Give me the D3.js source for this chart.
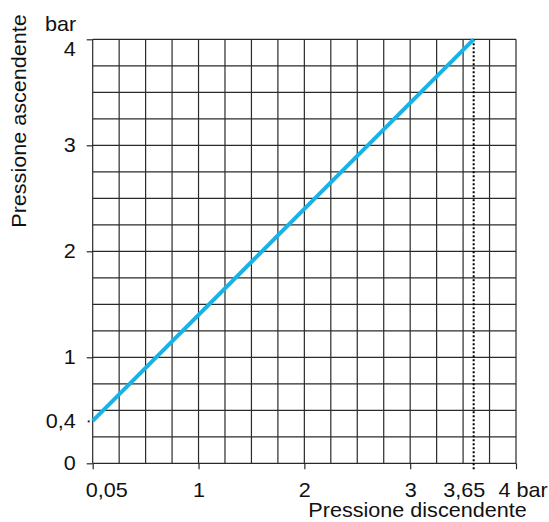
<!DOCTYPE html>
<html lang="it">
  <head>
    <meta charset="UTF-8" />
    <title>Pressione ascendente / discendente</title>
    <script src="https://cdnjs.cloudflare.com/ajax/libs/d3/7.8.5/d3.min.js"></script>
    <style>
      html, body { margin: 0; padding: 0; background: #fff; }
      svg text { font-family: "Liberation Sans", Arial, sans-serif; font-size: 20px; fill: #111; }
    </style>
  </head>
  <body>
    <div id="chart"></div>
    <script>
      /** Chart data */
      const xTickValues = [0, 1, 2, 3, 3.6, 4];
      const xTickLabels = ["0,05", "1", "2", "3", "3,65", "4 bar"];
      const yTickValues = [0, 0.4, 1, 2, 3, 4];
      const yTickLabels = ["0", "0,4", "1", "2", "3", "4"];
      const lineX = [0, 3.6];
      const lineY = [0.4, 4];
      const markerX = 3.6;
      const gridStep = 0.25;
      const xTitle = "Pressione discendente";
      const yTitle = "Pressione ascendente";
      const yUnit = "bar";

      /** Graph configs */
      const width = 549;
      const height = 522;
      const plotLeft = 92.7;
      const plotRight = 516;
      const plotTop = 39.3;
      const plotBottom = 463.3;
      const fontSize = 20;
      const stretch = 1.08; // text in the original is a bit wider than Arial
      const lineColor = "#1ab2e4";
      const gridColor = "#2a2a2a";

      const xScale = d3.scaleLinear().domain([0, 4]).range([plotLeft, plotRight]);
      const yScale = d3.scaleLinear().domain([0, 4]).range([plotBottom, plotTop]);

      const svg = d3
        .select("#chart")
        .append("svg")
        .attr("width", width)
        .attr("height", height);

      /** Grid */
      const gridValues = d3.range(0, 4 + 1e-9, gridStep);
      svg
        .append("g")
        .selectAll("line")
        .data(gridValues)
        .join("line")
        .attr("x1", (d) => xScale(d))
        .attr("x2", (d) => xScale(d))
        .attr("y1", plotTop)
        .attr("y2", plotBottom)
        .attr("stroke", gridColor)
        .attr("stroke-width", 1.2);
      svg
        .append("g")
        .selectAll("line")
        .data(gridValues)
        .join("line")
        .attr("x1", plotLeft)
        .attr("x2", plotRight)
        .attr("y1", (d) => yScale(d))
        .attr("y2", (d) => yScale(d))
        .attr("stroke", gridColor)
        .attr("stroke-width", 1.2);

      /** X axis */
      const xAxis = d3
        .axisBottom(xScale)
        .tickValues(xTickValues)
        .tickFormat((d, i) => xTickLabels[i])
        .tickSize(6)
        .tickPadding(13.5);
      const gx = svg
        .append("g")
        .attr("transform", `translate(0, ${plotBottom})`)
        .call(xAxis);
      gx.select(".domain").remove();
      gx.selectAll(".tick line").attr("stroke", gridColor).attr("stroke-width", 1.2);
      const xShift = { "0,05": 13.5, "3,65": -10, "4 bar": 6.5 };
      gx.selectAll(".tick text")
        .attr("fill", "#111")
        .attr("font-size", fontSize)
        .attr("font-family", null)
        .each(function (d, i) {
          const t = d3.select(this);
          const y = +t.attr("y");
          const dx = xShift[xTickLabels[i]] || 0;
          t.attr("y", 0).attr("transform", `translate(${dx}, ${y}) scale(${stretch}, 1)`);
        });
      gx.selectAll(".tick")
        .filter((d) => d === markerX)
        .select("line")
        .remove();

      /** Y axis */
      const yAxis = d3
        .axisLeft(yScale)
        .tickValues(yTickValues)
        .tickFormat((d, i) => yTickLabels[i])
        .tickSize(6)
        .tickPadding(11);
      const gy = svg
        .append("g")
        .attr("transform", `translate(${plotLeft}, 0)`)
        .call(yAxis);
      gy.select(".domain").remove();
      gy.selectAll(".tick line").attr("stroke", gridColor).attr("stroke-width", 1.2);
      gy.selectAll(".tick")
        .filter((d) => d === 0.4)
        .select("line")
        .attr("x1", -5)
        .attr("x2", -3)
        .attr("stroke-width", 2);
      gy.selectAll(".tick text")
        .attr("fill", "#111")
        .attr("font-size", fontSize)
        .attr("font-family", null)
        .each(function (d) {
          const t = d3.select(this);
          const x = +t.attr("x");
          const dy = d === 4 ? 10 : 0;
          t.attr("x", 0).attr("transform", `translate(${x}, ${dy}) scale(${stretch}, 1)`);
        });

      /** Dotted marker */
      svg
        .append("line")
        .attr("x1", xScale(markerX))
        .attr("x2", xScale(markerX))
        .attr("y1", yScale(4))
        .attr("y2", plotBottom + 6)
        .attr("stroke", "#000")
        .attr("stroke-width", 2)
        .attr("stroke-dasharray", "2,2");

      /** Characteristic line */
      const points = lineX.map((x, i) => [x, lineY[i]]);
      svg
        .append("path")
        .datum(points)
        .attr("fill", "none")
        .attr("stroke", lineColor)
        .attr("stroke-width", 4)
        .attr("d", d3.line().x((d) => xScale(d[0])).y((d) => yScale(d[1])));

      /** Titles */
      svg
        .append("text")
        .attr("text-anchor", "middle")
        .attr("transform", `translate(417.5, 517) scale(${stretch}, 1)`)
        .text(xTitle);
      svg
        .append("text")
        .attr("text-anchor", "middle")
        .attr("transform", `translate(26, 121) rotate(-90) scale(${stretch}, 1)`)
        .text(yTitle);
      svg
        .append("text")
        .attr("text-anchor", "start")
        .attr("transform", `translate(45, 31) scale(${stretch}, 1)`)
        .text(yUnit);
    </script>
  </body>
</html>
